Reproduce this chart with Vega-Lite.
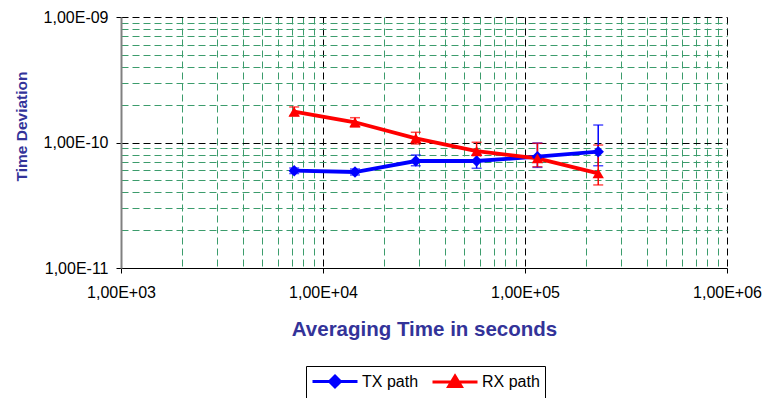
{
  "$schema": "https://vega.github.io/schema/vega-lite/v6.json",
  "width": 606,
  "height": 251,
  "autosize": {"type": "none"},
  "padding": {"left": 121, "top": 17, "right": 40, "bottom": 130},
  "background": "white",
  "config": {"font": "Liberation Sans", "view": {"stroke": null}},
  "data": {
    "values": [
      {"series": "TX path", "t": 7200, "td": 5.96e-11, "lo": 5.66e-11, "hi": 6.26e-11},
      {"series": "TX path", "t": 14400, "td": 5.82e-11, "lo": 5.51e-11, "hi": 6.15e-11},
      {"series": "TX path", "t": 28800, "td": 7.12e-11, "lo": 6.53e-11, "hi": 7.95e-11},
      {"series": "TX path", "t": 57600, "td": 7.12e-11, "lo": 6.23e-11, "hi": 7.95e-11},
      {"series": "TX path", "t": 115200, "td": 7.71e-11, "lo": 6.34e-11, "hi": 9.91e-11},
      {"series": "TX path", "t": 230400, "td": 8.45e-11, "lo": 6.53e-11, "hi": 1.378e-10},
      {"series": "RX path", "t": 7200, "td": 1.76e-10, "lo": 1.64e-10, "hi": 1.92e-10},
      {"series": "RX path", "t": 14400, "td": 1.449e-10, "lo": 1.33e-10, "hi": 1.576e-10},
      {"series": "RX path", "t": 28800, "td": 1.08e-10, "lo": 9.73e-11, "hi": 1.206e-10},
      {"series": "RX path", "t": 57600, "td": 8.55e-11, "lo": 7.85e-11, "hi": 1.004e-10},
      {"series": "RX path", "t": 115200, "td": 7.48e-11, "lo": 6.41e-11, "hi": 9.85e-11},
      {"series": "RX path", "t": 230400, "td": 5.68e-11, "lo": 4.59e-11, "hi": 9.55e-11}
    ]
  },
  "encoding": {
    "x": {
      "field": "t",
      "type": "quantitative",
      "title": "Averaging Time in seconds",
      "scale": {"type": "log", "domain": [1000, 1000000], "nice": false},
      "axis": {
        "values": [1000, 2000, 3000, 4000, 5000, 6000, 7000, 8000, 9000, 10000, 20000, 30000, 40000, 50000, 60000, 70000, 80000, 90000, 100000, 200000, 300000, 400000, 500000, 600000, 700000, 800000, 900000, 1000000],
        "labelExpr": "abs(log(datum.value)/LN10 - round(log(datum.value)/LN10)) < 0.01 ? '1,00E' + (datum.value < 1 ? '-' : '+') + (abs(round(log(datum.value)/LN10)) < 10 ? '0' : '') + abs(round(log(datum.value)/LN10)) : ''",
        "labelFontSize": 16,
        "labelColor": "black",
        "labelPadding": 11,
        "labelFlush": false,
        "labelOverlap": false,
        "tickSize": 5,
        "tickColor": "black",
        "tickOpacity": {"condition": {"test": "abs(log(datum.value)/LN10 - round(log(datum.value)/LN10)) < 0.01", "value": 1}, "value": 0},
        "grid": true,
        "gridColor": {"condition": {"test": "abs(log(datum.value)/LN10 - round(log(datum.value)/LN10)) < 0.01", "value": "black"}, "value": "#3C9C6C"},
        "gridOpacity": {"condition": {"test": "datum.value < 1001", "value": 0}, "value": 1},
        "gridDash": [7, 4],
        "gridWidth": 1,
        "domainColor": "black",
        "domainWidth": 1,
        "titleFontSize": 20.5,
        "titleFontWeight": "bold",
        "titleColor": "#333399",
        "titleBaseline": "alphabetic",
        "titleY": 67
      }
    },
    "color": {
      "field": "series",
      "type": "nominal",
      "scale": {"domain": ["TX path", "RX path"], "range": ["#0000FF", "#FF0000"]},
      "legend": {
        "orient": "none",
        "legendX": 185,
        "legendY": 349,
        "direction": "horizontal",
        "columns": 2,
        "title": null,
        "strokeColor": "black",
        "fillColor": "white",
        "padding": 5,
        "cornerRadius": 0,
        "labelFont": "Liberation Sans",
        "labelFontSize": 16,
        "labelColor": "black",
        "symbolSize": 324,
        "symbolStrokeWidth": 3,
        "labelOffset": 30,
        "columnPadding": 7,
        "symbolType": "M-1,0H4",
        "encode": {
          "symbols": {
            "update": {
              "shape": {"signal": "datum.value === 'TX path' ? 'M-1,0H4M1.5,-0.6L2.1,0L1.5,0.6L0.9,0Z' : 'M-1,0H4M1.5,-0.65L2.2,0.5L0.8,0.5Z'"},
              "fill": {"signal": "scale('color', datum.value)"},
              "stroke": {"signal": "scale('color', datum.value)"},
              "opacity": {"value": 1}
            }
          }
        }
      }
    }
  },
  "layer": [
    {
      "mark": {"type": "errorbar", "thickness": 1.5, "ticks": {"size": 10, "thickness": 1.5}},
      "encoding": {
        "y": {"field": "lo", "type": "quantitative", "title": "Time Deviation", "scale": {"type": "log", "domain": [1e-11, 1e-9], "nice": false}},
        "y2": {"field": "hi", "title": "Time Deviation"}
      }
    },
    {
      "mark": {"type": "line", "strokeWidth": 3.8},
      "encoding": {
        "y": {
          "field": "td",
          "type": "quantitative",
          "title": "Time Deviation",
          "scale": {"type": "log", "domain": [1e-11, 1e-9], "nice": false},
          "axis": {
            "values": [1e-11, 2e-11, 3e-11, 4e-11, 5e-11, 6e-11, 7e-11, 8e-11, 9e-11, 1e-10, 2e-10, 3e-10, 4e-10, 5e-10, 6e-10, 7e-10, 8e-10, 9e-10, 1e-9],
            "labelExpr": "abs(log(datum.value)/LN10 - round(log(datum.value)/LN10)) < 0.01 ? '1,00E' + (datum.value < 1 ? '-' : '+') + (abs(round(log(datum.value)/LN10)) < 10 ? '0' : '') + abs(round(log(datum.value)/LN10)) : ''",
            "labelFontSize": 16,
            "labelColor": "black",
            "labelPadding": 8,
            "labelFlush": false,
            "labelOverlap": false,
            "tickSize": 5,
            "tickColor": "black",
            "tickOpacity": {"condition": {"test": "abs(log(datum.value)/LN10 - round(log(datum.value)/LN10)) < 0.01", "value": 1}, "value": 0},
            "grid": true,
            "gridColor": {"condition": {"test": "abs(log(datum.value)/LN10 - round(log(datum.value)/LN10)) < 0.01", "value": "black"}, "value": "#3C9C6C"},
            "gridOpacity": {"condition": {"test": "datum.value < 1.01e-11", "value": 0}, "value": 1},
            "gridDash": [7, 4],
            "gridWidth": 1,
            "domainColor": "#808080",
            "domainWidth": 2,
            "titleFontSize": 15.5,
            "titleFontWeight": "bold",
            "titleColor": "#333399",
            "titleAngle": -90,
            "titleBaseline": "alphabetic",
            "titleAlign": "center",
            "titleX": -95,
            "titleY": 109
          }
        }
      }
    },
    {
      "mark": {"type": "point", "filled": true, "size": 130, "opacity": 1, "strokeWidth": 1},
      "encoding": {
        "y": {"field": "td", "type": "quantitative", "title": "Time Deviation", "scale": {"type": "log", "domain": [1e-11, 1e-9], "nice": false}},
        "shape": {"condition": {"test": "datum.series === 'TX path'", "value": "diamond"}, "value": "triangle-up"}
      }
    }
  ]
}
